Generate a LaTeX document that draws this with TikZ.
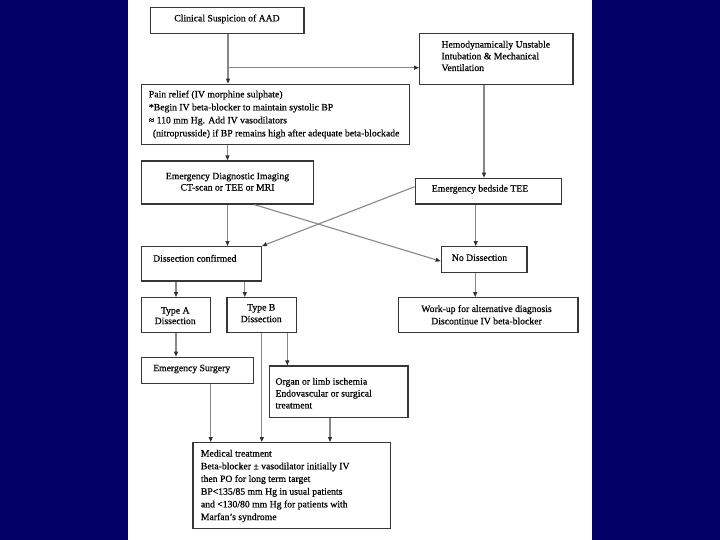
\documentclass[tikz,border=0pt]{standalone}
\usepackage{fontspec}
\setmainfont{Liberation Serif}[FakeBold=0.5]
\usetikzlibrary{arrows.meta,calc}
\definecolor{navy}{RGB}{0,0,102}
\definecolor{boxline}{RGB}{55,55,55}
\definecolor{conn}{RGB}{135,135,135}
\definecolor{tipc}{RGB}{50,50,50}
\tikzset{
  box/.style={draw=boxline, line width=1.3pt, rectangle, inner sep=0pt, fill=white},
  txt/.style={inner sep=0pt, align=left, anchor=west, text=black},
  ctxt/.style={inner sep=0pt, align=center, anchor=center, text=black},
  arr/.style={draw=conn, line width=1.1pt, -{Triangle[length=5pt,width=4pt,color=tipc]}},
}
\newcommand{\fsz}[1]{\fontsize{9.7}{#1}\selectfont}
\begin{document}
\begin{tikzpicture}[x=1pt,y=-1pt]
\fill[navy] (0,0) rectangle (720,540);
\fill[white] (128,0) rectangle (592,540);
\useasboundingbox (0,0) rectangle (720,540);

% boxes
\node[box, minimum width=153.3pt, minimum height=26pt] (clin) at (227.3,20.3) {};
\node[box, minimum width=153.3pt, minimum height=51pt] (hemo) at (496.3,58.8) {};
\node[box, minimum width=268.4pt, minimum height=60pt] (pain) at (275.5,114.3) {};
\node[box, minimum width=172.4pt, minimum height=43pt] (imag) at (227.5,182.5) {};
\node[box, minimum width=146pt, minimum height=25.7pt] (tee) at (488.3,191.2) {};
\node[box, minimum width=120pt, minimum height=34.3pt] (conf) at (201.3,263.8) {};
\node[box, minimum width=85.7pt, minimum height=26pt] (nodis) at (484.2,259.7) {};
\node[box, minimum width=69.4pt, minimum height=34.6pt] (typeA) at (176,315) {};
\node[box, minimum width=69.7pt, minimum height=34.6pt] (typeB) at (261.8,315) {};
\node[box, minimum width=179.3pt, minimum height=34.6pt] (work) at (488.3,315) {};
\node[box, minimum width=112pt, minimum height=26pt] (surg) at (197.3,370.3) {};
\node[box, minimum width=138.3pt, minimum height=51.3pt] (organ) at (338.8,391.7) {};
\node[box, minimum width=197.7pt, minimum height=85.6pt] (med) at (291.8,485.5) {};

% texts
\node[ctxt, font=\fsz{12}] (tclin) at (227,19) {Clinical Suspicion of AAD};
\node[txt, font=\fsz{11.7}] (themo) at (441.3,56) {Hemodynamically Unstable\\Intubation \& Mechanical\\Ventilation};
\node[txt, font=\fsz{13}] (tpain) at (148.7,114.5) {Pain relief (IV morphine sulphate)\\*Begin IV beta-blocker to maintain systolic BP\\≈ 110 mm Hg. Add IV vasodilators\\\hspace*{4pt}(nitroprusside) if BP remains high after adequate beta-blockade};
\node[ctxt, font=\fsz{11.3}] (timag) at (227.5,181.7) {Emergency Diagnostic Imaging\\CT-scan or TEE or MRI};
\node[txt, font=\fsz{12}] (ttee) at (431.7,189.3) {Emergency bedside TEE};
\node[txt, font=\fsz{12}] (tconf) at (153,258.3) {Dissection confirmed};
\node[txt, font=\fsz{12}] (tnodis) at (451.7,257.7) {No Dissection};
\node[ctxt, font=\fsz{10.5}] (ttypeA) at (175.2,315.7) {Type A\\Dissection};
\node[ctxt, font=\fsz{11.7}] (ttypeB) at (261.2,313.2) {Type B\\Dissection};
\node[ctxt, font=\fsz{12.3}] (twork) at (486.5,314.8) {Work-up for alternative diagnosis\\Discontinue IV beta-blocker};
\node[txt, font=\fsz{12}] (tsurg) at (153,369) {Emergency Surgery};
\node[txt, font=\fsz{11.9}] (torgan) at (275.3,393.2) {Organ or limb ischemia\\Endovascular or surgical\\treatment};
\node[txt, font=\fsz{12.7}] (tmed) at (200.7,486) {Medical treatment\\Beta-blocker ± vasodilator initially IV\\then PO for long term target\\BP<135/85 mm Hg in usual patients\\and <130/80 mm Hg for patients with\\Marfan's syndrome};

% connectors
\coordinate (cx) at ([xshift=0.7pt]clin.south);
\draw[arr] (cx) -- (cx |- pain.north);
\coordinate (br) at (cx |- 0,67.7);
\draw[arr] (br) -- (br -| hemo.west);
\draw[arr] (imag.north |- pain.south) -- (imag.north);
\coordinate (hx) at ([xshift=-12.3pt]hemo.south);
\draw[arr] (hx) -- (hx |- tee.north);
\draw[arr] (imag.south) -- (imag.south |- conf.north);
\draw[arr] ([xshift=27pt]imag.south) -- ([yshift=-1.5pt]nodis.west);
\draw[arr] ([yshift=4.5pt]tee.west) -- (conf.north east);
\coordinate (tx) at ([xshift=-12.6pt]tee.south);
\draw[arr] (tx) -- (tx |- nodis.north);
\draw[arr] (typeA.north |- conf.south) -- (typeA.north);
\coordinate (bx) at ([xshift=-17pt]typeB.north);
\draw[arr] (bx |- conf.south) -- (bx);
\coordinate (nx) at ([xshift=-9pt]nodis.south);
\draw[arr] (nx) -- (nx |- work.north);
\draw[arr] (typeA.south) -- (typeA.south |- surg.north);
\coordinate (ox) at ([xshift=25.5pt]typeB.south);
\draw[arr] (ox) -- (ox |- organ.north);
\draw[arr] (typeB.south) -- (typeB.south |- med.north);
\coordinate (sx) at ([xshift=13.4pt]surg.south);
\draw[arr] (sx) -- (sx |- med.north);
\coordinate (gx) at ([xshift=-8.8pt]organ.south);
\draw[arr] (gx) -- (gx |- med.north);
\end{tikzpicture}
\end{document}
